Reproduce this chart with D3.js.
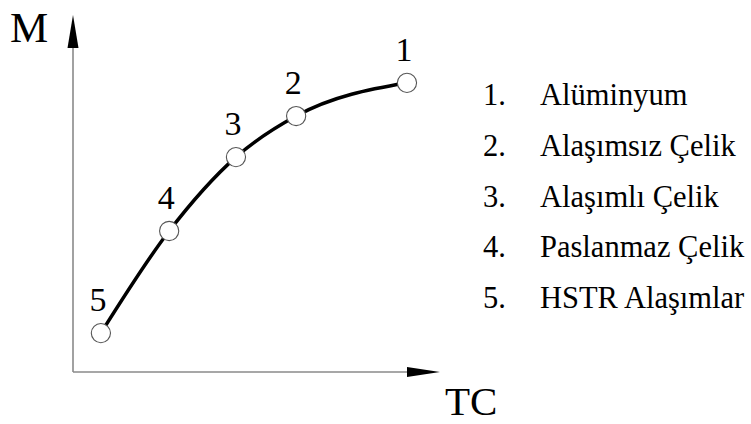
<!DOCTYPE html>
<html>
<head>
<meta charset="utf-8">
<script src="https://cdn.jsdelivr.net/npm/d3@7"></script>
</head>
<body style="margin:0;background:#fff">
<svg id="chart" width="751" height="424" style="display:block;font-family:'Liberation Serif',Tinos,FreeSerif,serif"></svg>
<script>
// ---- data ----
const pointLabels = ["1", "2", "3", "4", "5"];
const materials = ["Alüminyum", "Alaşımsız Çelik", "Alaşımlı Çelik", "Paslanmaz Çelik", "HSTR Alaşımlar"];
const tcValues = [91.0, 60.8, 44.4, 26.2, 7.6];   // relative TC (x)
const mValues  = [81.0, 71.7, 60.2, 39.5, 10.9];  // relative M (y)
const xAxisTitle = "TC";
const yAxisTitle = "M";

// ---- layout ----
const FONT = "Liberation Serif, Tinos, FreeSerif, serif";
const svg = d3.select("#chart");
const x0 = 73, x1 = 440, y0 = 372, y1 = 15;
const x = d3.scaleLinear().domain([0, 100]).range([x0, x1]);
const y = d3.scaleLinear().domain([0, 100]).range([y0, y1]);

const pts = pointLabels.map((l, i) => ({label: l, name: materials[i], tc: tcValues[i], m: mValues[i]}))
  .sort((a, b) => a.tc - b.tc);

// axes (lines + arrowheads)
svg.append("line").attr("x1", x(0)).attr("y1", y(0)).attr("x2", x(0)).attr("y2", y(100) + 20)
  .attr("stroke", "#8a8a8a").attr("stroke-width", 1.6);
svg.append("line").attr("x1", x(0)).attr("y1", y(0)).attr("x2", x(100) - 20).attr("y2", y(0))
  .attr("stroke", "#8a8a8a").attr("stroke-width", 1.6);
svg.append("path")
  .attr("d", `M${x(0)},${y(100)} L${x(0) - 5.5},${y(100) + 33} L${x(0) + 5.5},${y(100) + 33} Z`)
  .attr("fill", "#000");
svg.append("path")
  .attr("d", `M${x(100)},${y(0)} L${x(100) - 33},${y(0) - 5} L${x(100) - 33},${y(0) + 5} Z`)
  .attr("fill", "#000");

function txt(sel, size) {
  return sel.style("font-family", FONT).style("font-size", size + "px");
}

txt(svg.append("text").attr("x", 10).attr("y", 42), 43).text(yAxisTitle);
txt(svg.append("text").attr("x", 445).attr("y", 415), 41).text(xAxisTitle);

// curve
const line = d3.line().x(d => x(d.tc)).y(d => y(d.m)).curve(d3.curveMonotoneX);
svg.append("path").datum(pts).attr("d", line)
  .attr("fill", "none").attr("stroke", "#000").attr("stroke-width", 3.5);

// points
svg.selectAll("circle.pt").data(pts).join("circle")
  .attr("class", "pt")
  .attr("cx", d => x(d.tc)).attr("cy", d => y(d.m)).attr("r", 9.6)
  .attr("fill", "#fff").attr("stroke", "#555").attr("stroke-width", 1.1);

txt(svg.selectAll("text.pl").data(pts).join("text")
  .attr("class", "pl")
  .attr("x", d => x(d.tc) - 3).attr("y", d => y(d.m) - 22)
  .attr("text-anchor", "middle"), 34)
  .text(d => d.label);

// legend
const leg = svg.append("g");
pointLabels.forEach((l, i) => {
  const by = 105 + i * 50.8;
  txt(leg.append("text").attr("x", 483).attr("y", by), 30.5).text(l + ".");
  txt(leg.append("text").attr("x", 540).attr("y", by), 30.5).text(materials[i]);
});
</script>
</body>
</html>
